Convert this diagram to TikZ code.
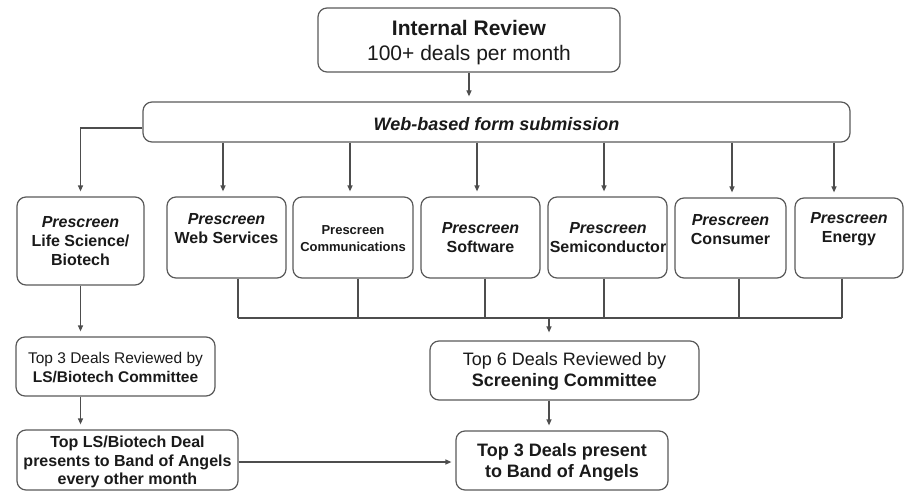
\documentclass[tikz,border=0pt]{standalone}
\usepackage{fontspec}
\setmainfont{Liberation Sans}
\usetikzlibrary{arrows.meta}
\definecolor{linegray}{HTML}{4D4D4D}
\definecolor{boxgray}{HTML}{5A5A5A}
\definecolor{txt}{HTML}{1A1A1A}
\begin{document}
\begin{tikzpicture}[x=1pt,y=-1pt,
  box/.style={draw=boxgray, line width=1.2pt, rounded corners=9pt, inner sep=0pt, fill=white},
  lbl/.style={align=center, inner sep=0pt, text=txt},
  conn/.style={draw=linegray, line width=1.2pt},
  arr/.style={conn, -{Triangle[length=6pt,width=5pt]}, shorten >=5pt}
]
\fill[white] (0,0) rectangle (905,492);
\useasboundingbox (0,0) rectangle (905,492);

% top
\node[box, minimum width=302pt, minimum height=64pt] (ir) at (469,40) {};
\node[lbl, font=\fontsize{21}{25}\selectfont] (irt) at (469,42.5) {\textbf{Internal Review}\\100+ deals per month};

\node[box, minimum width=707pt, minimum height=40pt] (web) at (496.5,122) {};
\node[lbl, font=\fontsize{18}{21}\selectfont\bfseries\itshape] (webt) at (496.5,124) {Web-based form submission};

% prescreen row
\node[box, minimum width=127pt, minimum height=88pt] (ls) at (80.5,241) {};
\node[lbl, font=\fontsize{16}{19}\selectfont\bfseries] (lst) at (80.5,241.5) {\textit{Prescreen}\\Life Science/\\Biotech};

\node[box, minimum width=119pt, minimum height=81pt] (ws) at (226.5,237.5) {};
\node[lbl, font=\fontsize{16}{19}\selectfont\bfseries] (wst) at (226.5,228.5) {\textit{Prescreen}\\Web Services};

\node[box, minimum width=120pt, minimum height=81pt] (cm) at (353,237.5) {};
\node[lbl, font=\fontsize{13}{17}\selectfont\bfseries] (cmt) at (353,238.5) {Prescreen\\Communications};

\node[box, minimum width=119pt, minimum height=81pt] (sw) at (480.5,237.5) {};
\node[lbl, font=\fontsize{16}{19}\selectfont\bfseries] (swt) at (480.5,237.5) {\textit{Prescreen}\\Software};

\node[box, minimum width=119pt, minimum height=81pt] (sc) at (607.5,237.5) {};
\node[lbl, font=\fontsize{16}{19}\selectfont\bfseries] (sct) at (608,237.5) {\textit{Prescreen}\\Semiconductor};

\node[box, minimum width=111pt, minimum height=80pt] (co) at (730.5,238) {};
\node[lbl, font=\fontsize{16}{19}\selectfont\bfseries] (cot) at (730.5,229.5) {\textit{Prescreen}\\Consumer};

\node[box, minimum width=108pt, minimum height=80pt] (en) at (849,238) {};
\node[lbl, font=\fontsize{16}{19}\selectfont\bfseries] (ent) at (849,229.5) {\textit{Prescreen}\\Energy};

% lower boxes
\node[box, minimum width=199pt, minimum height=59pt] (t3l) at (115.5,366.5) {};
\node[lbl, font=\fontsize{15.5}{19}\selectfont] (t3lt) at (115.5,367.5) {Top 3 Deals Reviewed by\\\textbf{LS/Biotech Committee}};

\node[box, minimum width=221pt, minimum height=60pt] (blt) at (127.5,460) {};
\node[lbl, font=\fontsize{16}{18.5}\selectfont\bfseries] (bltt) at (127.5,462) {Top LS/Biotech Deal\\presents to Band of Angels\\every other month};

\node[box, minimum width=269pt, minimum height=59pt] (t6) at (564.5,370.5) {};
\node[lbl, font=\fontsize{18}{21}\selectfont] (t6t) at (564.5,371) {Top 6 Deals Reviewed by\\\textbf{Screening Committee}};

\node[box, minimum width=212pt, minimum height=59pt] (t3) at (562,460.5) {};
\node[lbl, font=\fontsize{18}{21}\selectfont\bfseries] (t3t) at (562,462.5) {Top 3 Deals present\\to Band of Angels};

% connectors: top
\draw[arr] (ir.south) -- (ir.south |- web.north);
\draw[arr] ([yshift=-6pt]web.west) -| (ls.north);

\path (ws.north) ++(-3.5,0) coordinate (wsin);
\path (cm.north) ++(-3,0) coordinate (cmin);
\path (sw.north) ++(-3.5,0) coordinate (swin);
\path (sc.north) ++(-3.5,0) coordinate (scin);
\path (co.north) ++(1.5,0) coordinate (coin);
\path (en.north) ++(-15,0) coordinate (enin);
\foreach \c in {wsin,cmin,swin,scin,coin,enin}
  \draw[arr] (web.south -| \c) -- (\c);

% bus
\coordinate (bus) at (549,318);
\path (ws.south) ++(11.5,0) coordinate (wsout);
\path (cm.south) ++(5,0) coordinate (cmout);
\path (sw.south) ++(4.5,0) coordinate (swout);
\path (sc.south) ++(-3.5,0) coordinate (scout);
\path (co.south) ++(8.5,0) coordinate (coout);
\path (en.south) ++(-7,0) coordinate (enout);
\foreach \c in {wsout,cmout,swout,scout,coout,enout}
  \draw[conn] (\c) -- (\c |- bus);
\draw[conn] (wsout |- bus) -- (enout |- bus);
\draw[arr, shorten >=8pt] (bus) -- (bus |- t6.north);

% left chain
\draw[arr] (ls.south) -- (ls.south |- t3l.north);
\draw[arr] (t3l.south -| ls.south) -- (blt.north -| ls.south);
\draw[arr, shorten >=4pt] ([yshift=-2pt]blt.east) -- ([yshift=-2pt]blt.east -| t3.west);

% right chain
\draw[arr] (t6.south -| bus) -- (t3.north -| bus);
\end{tikzpicture}
\end{document}
